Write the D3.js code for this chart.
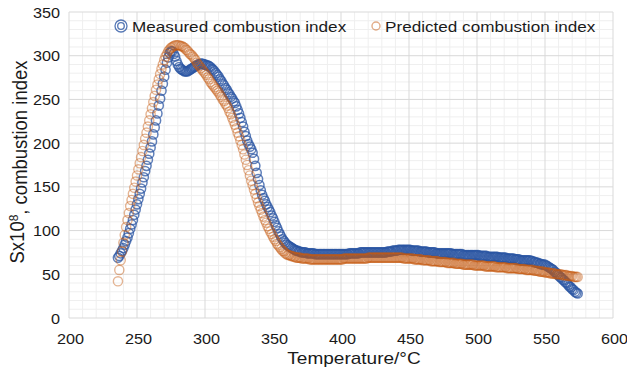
<!DOCTYPE html>
<html>
<head>
<meta charset="utf-8">
<script src="https://cdn.jsdelivr.net/npm/d3@7"></script>
<style>
  body { margin: 0; background: #fff; }
  text { font-family: "Liberation Sans", Arial, sans-serif; fill: #1a1a1a; }
</style>
</head>
<body>
<div id="chart"></div>
<script>
// Drawing area
const w = 627;
const h = 375;
const margin = { top: 12, right: 14, bottom: 57, left: 69 };

// Temperatures (°C), one reading per degree
const temperatures = [
  236, 237, 238, 239, 240, 241, 242, 243, 244, 245, 246, 247, 248, 249, 250, 251, 252, 253, 254, 255,
  256, 257, 258, 259, 260, 261, 262, 263, 264, 265, 266, 267, 268, 269, 270, 271, 272, 273, 274, 275,
  276, 277, 278, 279, 280, 281, 282, 283, 284, 285, 286, 287, 288, 289, 290, 291, 292, 293, 294, 295,
  296, 297, 298, 299, 300, 301, 302, 303, 304, 305, 306, 307, 308, 309, 310, 311, 312, 313, 314, 315,
  316, 317, 318, 319, 320, 321, 322, 323, 324, 325, 326, 327, 328, 329, 330, 331, 332, 333, 334, 335,
  336, 337, 338, 339, 340, 341, 342, 343, 344, 345, 346, 347, 348, 349, 350, 351, 352, 353, 354, 355,
  356, 357, 358, 359, 360,
  361, 362, 363, 364, 365, 366, 367, 368, 369, 370, 371, 372, 373, 374, 375, 376, 377, 378, 379, 380,
  381, 382, 383, 384, 385, 386, 387, 388, 389, 390, 391, 392, 393, 394, 395, 396, 397, 398, 399, 400,
  401, 402, 403, 404, 405, 406, 407, 408, 409, 410, 411, 412, 413, 414, 415, 416, 417, 418, 419, 420,
  421, 422, 423, 424, 425, 426, 427, 428, 429, 430, 431, 432, 433, 434, 435, 436, 437, 438, 439, 440,
  441, 442, 443, 444, 445, 446, 447, 448, 449, 450, 451, 452, 453, 454, 455, 456, 457, 458, 459, 460,
  461, 462, 463, 464, 465, 466, 467, 468, 469, 470, 471, 472, 473, 474, 475, 476, 477, 478, 479, 480,
  481, 482, 483, 484, 485, 486, 487, 488, 489, 490, 491, 492, 493, 494, 495, 496, 497, 498, 499, 500,
  501, 502, 503, 504, 505, 506, 507, 508, 509, 510, 511, 512, 513, 514, 515, 516, 517, 518, 519, 520,
  521, 522, 523, 524, 525, 526, 527, 528, 529, 530, 531, 532, 533, 534, 535, 536, 537, 538, 539, 540,
  541, 542, 543, 544, 545, 546, 547, 548, 549, 550, 551, 552, 553, 554, 555, 556, 557, 558, 559, 560,
  561, 562, 563, 564, 565, 566, 567, 568, 569, 570, 571, 572, 573, 574
];

// Measured combustion index (Sx10^8)
const measured = [
  69, 71, 74, 77, 80, 84, 88, 92, 97, 102, 107, 112, 118, 124, 130, 136, 142, 148, 155, 161,
  168, 174, 181, 188, 195, 202, 210, 218, 226, 234, 243, 251, 260, 268, 276, 284, 292, 298, 303, 305,
  305, 302, 299, 294, 290, 287, 285, 284, 283, 282, 282, 282, 283, 284, 285, 286, 287, 288, 289, 290,
  290, 291, 291, 290, 290, 289, 289, 288, 287, 285, 284, 282, 280, 278, 276, 273, 271, 268, 266, 263,
  261, 258, 256, 253, 251, 248, 246, 242, 238, 234, 229, 224, 219, 213, 208, 203, 199, 196, 193, 189,
  182, 174, 166, 159, 152, 146, 141, 137, 134, 130, 127, 124, 121, 117, 114, 110, 106, 103, 99, 96,
  93, 90, 88, 86, 84,
  83, 82, 81, 80, 79, 78, 77, 77, 76, 76, 75, 75, 75, 75, 74, 74, 74, 74, 74, 74,
  73, 73, 73, 73, 73, 73, 73, 73, 73, 73, 73, 73, 73, 73, 73, 73, 73, 73, 73, 73,
  73, 73, 73, 73, 73, 74, 74, 74, 74, 74, 74, 74, 74, 75, 75, 75, 75, 75, 75, 75,
  75, 75, 75, 75, 75, 75, 75, 75, 75, 75, 75, 75, 75, 76, 76, 76, 76, 77, 77, 77,
  77, 78, 78, 78, 78, 78, 78, 78, 78, 78, 78, 77, 77, 77, 77, 77, 77, 76, 76, 76,
  76, 76, 76, 75, 75, 75, 75, 75, 75, 74, 74, 74, 74, 74, 74, 74, 74, 74, 74, 74,
  74, 73, 73, 73, 73, 73, 73, 73, 73, 72, 72, 72, 72, 72, 72, 72, 72, 72, 72, 72,
  72, 71, 71, 71, 71, 71, 71, 70, 70, 70, 70, 70, 70, 70, 70, 69, 69, 69, 69, 69,
  69, 68, 68, 68, 68, 68, 68, 67, 67, 67, 67, 66, 66, 66, 66, 66, 66, 66, 66, 65,
  65, 64, 64, 63, 63, 62, 62, 61, 61, 61, 60, 59, 58, 57, 56, 55, 53, 52, 50, 49,
  47, 46, 44, 43, 41, 40, 38, 36, 35, 33, 32, 30, 29, 28
];

// Predicted combustion index (Sx10^8)
const predicted = [
  42, 55, 66, 76, 86, 95, 104, 112, 120, 128, 135, 142, 149, 156, 163, 170, 177, 184, 191, 198,
  205, 212, 219, 226, 233, 240, 247, 254, 261, 267, 273, 279, 285, 290, 295, 299, 302, 305, 307, 309,
  310, 311, 312, 312, 312, 312, 311, 311, 310, 309, 307, 306, 304, 302, 301, 299, 297, 295, 292, 290,
  288, 286, 284, 282, 280, 278, 275, 273, 270, 268, 266, 264, 262, 260, 258, 255, 253, 250, 248, 245,
  243, 240, 236, 233, 229, 225, 221, 217, 212, 208, 203, 198, 193, 187, 181, 175, 169, 163, 157, 152,
  147, 142, 137, 132, 128, 124, 120, 116, 112, 109, 105, 102, 99, 96, 93, 90, 88, 85, 83, 81,
  79, 77, 76, 74, 73,
  72, 72, 71, 71, 70, 70, 69, 69, 69, 69, 68, 68, 68, 68, 68, 68, 67, 67, 67, 67,
  67, 67, 67, 67, 67, 67, 67, 67, 67, 67, 67, 67, 67, 67, 67, 67, 67, 67, 67, 67,
  67, 68, 68, 68, 68, 68, 68, 68, 68, 68, 68, 68, 68, 68, 68, 68, 68, 68, 68, 69,
  69, 69, 69, 69, 69, 69, 69, 69, 69, 69, 69, 69, 69, 69, 69, 69, 69, 69, 69, 69,
  69, 69, 69, 69, 69, 68, 68, 68, 68, 68, 68, 68, 68, 67, 67, 67, 67, 67, 67, 66,
  66, 66, 66, 66, 66, 65, 65, 65, 65, 65, 65, 64, 64, 64, 64, 64, 64, 63, 63, 63,
  63, 63, 63, 62, 62, 62, 62, 62, 62, 61, 61, 61, 61, 61, 61, 61, 61, 60, 60, 60,
  60, 60, 60, 60, 60, 59, 59, 59, 59, 59, 59, 59, 59, 58, 58, 58, 58, 58, 58, 58,
  58, 57, 57, 57, 57, 57, 57, 57, 57, 56, 56, 56, 56, 56, 56, 55, 55, 55, 55, 55,
  55, 54, 54, 54, 54, 53, 53, 53, 53, 52, 52, 52, 52, 51, 51, 51, 51, 50, 50, 50,
  50, 50, 49, 49, 49, 49, 48, 48, 48, 48, 47, 47, 47, 47
];

const xTicks = [200, 250, 300, 350, 400, 450, 500, 550, 600];
const yTicks = [0, 50, 100, 150, 200, 250, 300, 350];
const seriesNames = ["Measured combustion index", "Predicted combustion index"];
const colors = { measured: "#2B55A3", predicted: "#C55A11" };

// Text in the source picture is wider than it is tall
const stretch = 1.12;

const svg = d3.select("#chart").append("svg")
  .attr("width", w)
  .attr("height", h);

const xScale = d3.scaleLinear()
  .domain([200, 600])
  .range([margin.left, w - margin.right]);

const yScale = d3.scaleLinear()
  .domain([0, 350])
  .range([h - margin.bottom, margin.top]);

// Minor grid every 10, major grid every 50
const grid = svg.append("g");
grid.selectAll(".minorX")
  .data(d3.range(200, 601, 10).filter(v => v % 50 !== 0))
  .enter().append("line")
  .attr("x1", d => xScale(d)).attr("x2", d => xScale(d))
  .attr("y1", yScale(0)).attr("y2", yScale(350))
  .attr("stroke", "#efefef");
grid.selectAll(".minorY")
  .data(d3.range(0, 351, 10).filter(v => v % 50 !== 0))
  .enter().append("line")
  .attr("x1", xScale(200)).attr("x2", xScale(600))
  .attr("y1", d => yScale(d)).attr("y2", d => yScale(d))
  .attr("stroke", "#efefef");
grid.selectAll(".majorX")
  .data(xTicks)
  .enter().append("line")
  .attr("x1", d => xScale(d)).attr("x2", d => xScale(d))
  .attr("y1", yScale(0)).attr("y2", yScale(350))
  .attr("stroke", "#d9d9d9");
grid.selectAll(".majorY")
  .data(yTicks)
  .enter().append("line")
  .attr("x1", xScale(200)).attr("x2", xScale(600))
  .attr("y1", d => yScale(d)).attr("y2", d => yScale(d))
  .attr("stroke", "#d9d9d9");

// Axes without tick marks or domain lines
const xAxis = d3.axisBottom(xScale).tickValues(xTicks).tickSize(0).tickPadding(0);
const yAxis = d3.axisLeft(yScale).tickValues(yTicks).tickSize(0).tickPadding(0);

svg.append("g")
  .attr("transform", `translate(0, ${h - margin.bottom})`)
  .call(xAxis)
  .call(g => g.select(".domain").remove())
  .selectAll("text")
  .attr("y", 0)
  .attr("dy", 0)
  .attr("transform", `translate(1, 26) scale(${stretch}, 1)`)
  .style("font-size", "14.5px")
  .style("font-family", "Liberation Sans, Arial, sans-serif")
  .attr("fill", "#1a1a1a");

svg.append("g")
  .attr("transform", `translate(${margin.left}, 0)`)
  .call(yAxis)
  .call(g => g.select(".domain").remove())
  .selectAll("text")
  .attr("x", 0)
  .attr("dy", "0.35em")
  .attr("transform", `translate(-9, 0) scale(${stretch}, 1)`)
  .style("font-size", "14.5px")
  .style("font-family", "Liberation Sans, Arial, sans-serif")
  .attr("fill", "#1a1a1a");

// Data points as hollow circles
const measuredPoints = temperatures.map((t, i) => ({ t: t, v: measured[i] }));
const predictedPoints = temperatures.map((t, i) => ({ t: t, v: predicted[i] }));

svg.append("g").selectAll("circle")
  .data(measuredPoints)
  .enter().append("circle")
  .attr("cx", d => xScale(d.t))
  .attr("cy", d => yScale(d.v))
  .attr("r", 4.6)
  .attr("fill", "none")
  .attr("stroke", colors.measured)
  .attr("stroke-width", 1.5)
  .attr("stroke-opacity", 0.75);

svg.append("g").selectAll("circle")
  .data(predictedPoints)
  .enter().append("circle")
  .attr("cx", d => xScale(d.t))
  .attr("cy", d => yScale(d.v))
  .attr("r", 4.6)
  .attr("fill", "none")
  .attr("stroke", colors.predicted)
  .attr("stroke-width", 1.4)
  .attr("stroke-opacity", 0.45);

// Legend
const legend = svg.append("g");
legend.append("circle").attr("cx", 121).attr("cy", 26).attr("r", 6)
  .attr("fill", "none").attr("stroke", colors.measured).attr("stroke-width", 1.3).attr("stroke-opacity", 0.8);
legend.append("circle").attr("cx", 121).attr("cy", 26).attr("r", 3.3)
  .attr("fill", "none").attr("stroke", colors.measured).attr("stroke-width", 1.3).attr("stroke-opacity", 0.8);
legend.append("text")
  .attr("transform", `translate(132, 31.5) scale(${stretch}, 1)`)
  .style("font-size", "15.3px")
  .text(seriesNames[0]);

legend.append("circle").attr("cx", 376).attr("cy", 26).attr("r", 4)
  .attr("fill", "none").attr("stroke", colors.predicted).attr("stroke-width", 1.4).attr("stroke-opacity", 0.5);
legend.append("text")
  .attr("transform", `translate(385, 31.5) scale(${stretch}, 1)`)
  .style("font-size", "15.3px")
  .text(seriesNames[1]);

// Axis titles
svg.append("text")
  .attr("transform", `translate(354, 364) scale(${stretch}, 1)`)
  .attr("text-anchor", "middle")
  .style("font-size", "17px")
  .text("Temperature/°C");

const yTitle = svg.append("text")
  .attr("transform", `translate(24, 162) scale(${stretch}, 1) rotate(-90)`)
  .attr("text-anchor", "middle")
  .style("font-size", "18.5px");
yTitle.append("tspan").text("Sx10");
yTitle.append("tspan").attr("dy", "-0.45em").style("font-size", "12px").text("8");
yTitle.append("tspan").attr("dy", "0.45em").text(", combustion index");
</script>
</body>
</html>
